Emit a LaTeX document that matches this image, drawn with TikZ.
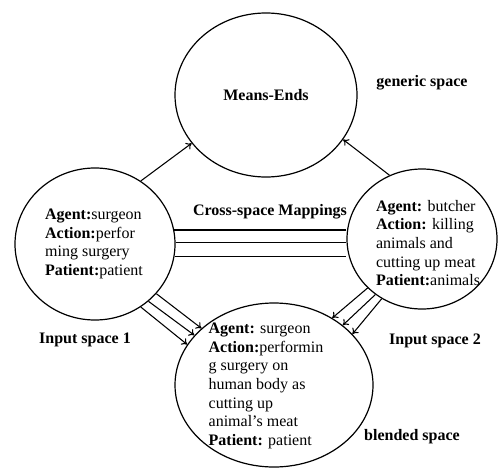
\documentclass[tikz,border=0pt]{standalone}
\usepackage{fontspec}
\setmainfont{Liberation Serif}
\usetikzlibrary{arrows.meta,positioning,shapes.geometric}

\begin{document}
\begin{tikzpicture}[
    x=0.75pt, y=-0.75pt,
    space/.style = {ellipse, draw, inner sep=0pt, line width=0.9pt, font=\fontsize{12}{14}\selectfont},
    txt/.style = {align=left, inner sep=0pt, font=\fontsize{12}{14}\selectfont},
    lbl/.style = {inner sep=0pt, font=\fontsize{12}{14}\selectfont\bfseries},
    ->, >={To[length=4pt,width=6pt]}, line width=0.8pt
]
\useasboundingbox (0,0) rectangle (502,467);

% Spaces
\node[space, minimum width=136.5pt, minimum height=123pt] (gen) at (266,95) {\textbf{Means-Ends}};
\node[space, minimum width=120pt, minimum height=114pt] (in1) at (95,244) {};
\node[space, minimum width=112.5pt, minimum height=105pt] (in2) at (422,239) {};
\node[space, minimum width=148.5pt, minimum height=123pt] (blend) at (274,385) {};

% Texts
\node[txt] (t1) at (94,244) {\textbf{Agent:}surgeon\\\textbf{Action:}perfor\\ming surgery\\\textbf{Patient:}patient};
\node[txt] (t2) at (428,243) {\textbf{Agent:} butcher\\\textbf{Action:} killing\\animals and\\cutting up meat\\\textbf{Patient:}animals};
\node[txt] (t3) at (266,386) {\textbf{Agent:} surgeon\\\textbf{Action:}performin\\g surgery on\\human body as\\cutting up\\animal’s meat\\\textbf{Patient:} patient};

% Labels
\node[lbl] (lgen)   at (422,83)  {generic space};
\node[lbl] (lmap)   at (270,212) {Cross-space Mappings};
\node[lbl] (lin1)   at (85,340)  {Input space 1};
\node[lbl] (lin2)   at (435,341) {Input space 2};
\node[lbl] (lblend) at (412,437) {blended space};

% Edges
\draw (in1.54) -> (gen.-147);
\draw (in2.117) -> (gen.-30);

\draw[-] (in1.10) -- (in1.10 -| in2.west);
\draw[-] (in1.1) -- (in1.1 -| in2.west);
\draw[-] (in1.-9) -- (in1.-9 -| in2.west);

\draw (in1.-39) -> (blend.142);
\draw (in1.-47) -> (blend.148);
\draw (in1.-54) -> (blend.155);

\draw (in2.-138) -> (blend.49);
\draw (in2.-130) -> (blend.41);
\draw (in2.-124) -> (blend.33);

\end{tikzpicture}
\end{document}
